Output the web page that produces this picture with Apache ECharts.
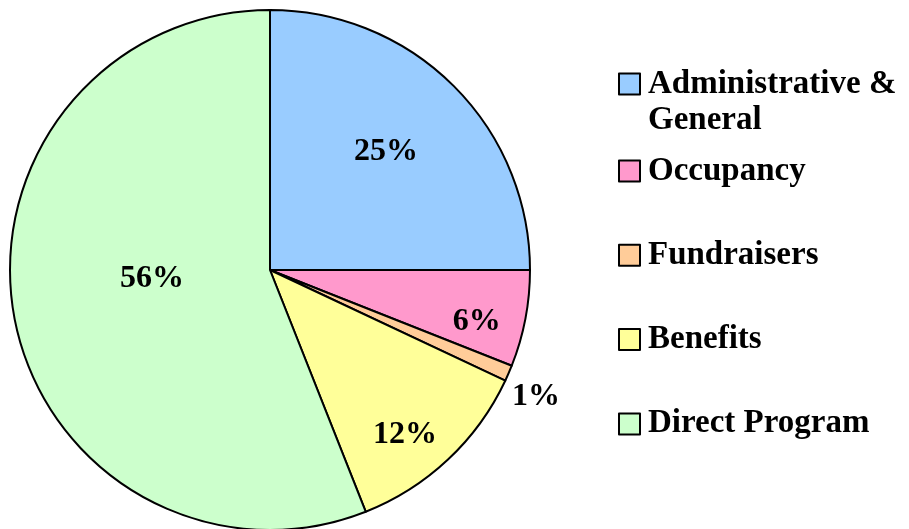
<!DOCTYPE html>
<html>
<head>
<meta charset="utf-8">
<script src="https://cdn.jsdelivr.net/npm/echarts@6/dist/echarts.min.js"></script>
<style>
  html, body { margin: 0; padding: 0; background: #fff; }
  #chart { width: 909px; height: 529px; }
</style>
</head>
<body>
<div id="chart"></div>
<script>
const categories = ['Administrative & General', 'Occupancy', 'Fundraisers', 'Benefits', 'Direct Program']
const shares = [25, 6, 1, 12, 56]
const colors = ['#99CCFF', '#FF99CC', '#FFCC99', '#FFFF99', '#CCFFCC']

// where each percentage label sits: share of the radius, and a small turn in degrees
const labelReach = [0.636, 0.82, 1.133, 0.82, 0.455]
const labelTurn = [-0.5, 3.2, 2.0, 3.9, 6.8]

const font = 'Liberation Serif'
const cx = 270
const cy = 270
const r = 260

const total = shares.reduce((a, b) => a + b, 0)
const midAngle = (i) => {
  let before = 0
  for (let k = 0; k < i; k++) before += shares[k]
  return ((before + shares[i] / 2) / total) * Math.PI * 2 + (labelTurn[i] * Math.PI) / 180
}

const legendText = {
  fontFamily: font,
  fontWeight: 'bold',
  fontSize: 33,
  lineHeight: 36,
  color: '#000',
  padding: [0, 0, 0, 3],
}

const chart = echarts.init(document.getElementById('chart'))
chart.setOption({
  animation: false,
  legend: [
    {
      orient: 'vertical',
      left: 618,
      top: 30,
      padding: 0,
      icon: 'rect',
      itemWidth: 21,
      itemHeight: 21,
      selectedMode: false,
      data: [categories[0]],
      // blank first line keeps the square level with the first line of text
      formatter: (name) => '\n' + name.replace('& ', '&\n'),
      textStyle: legendText,
    },
    {
      orient: 'vertical',
      left: 618,
      top: 153,
      padding: 0,
      icon: 'rect',
      itemWidth: 21,
      itemHeight: 21,
      itemGap: 48.3,
      selectedMode: false,
      data: categories.slice(1),
      textStyle: legendText,
    },
  ],
  series: [
    {
      type: 'pie',
      center: [cx, cy],
      radius: r,
      startAngle: 90,
      clockwise: true,
      avoidLabelOverlap: false,
      itemStyle: { borderColor: '#000', borderWidth: 2 },
      label: {
        position: 'inside',
        formatter: '{c}%',
        fontFamily: font,
        fontWeight: 'bold',
        fontSize: 32,
        color: '#000',
      },
      labelLine: { show: false },
      emphasis: { disabled: true },
      labelLayout: (p) => {
        const a = midAngle(p.dataIndex)
        const d = r * labelReach[p.dataIndex]
        return {
          x: cx + d * Math.sin(a),
          y: cy - d * Math.cos(a),
          align: 'center',
          verticalAlign: 'middle',
        }
      },
      data: categories.map((name, i) => ({
        name,
        value: shares[i],
        itemStyle: { color: colors[i] },
      })),
    },
  ],
})
</script>
</body>
</html>
